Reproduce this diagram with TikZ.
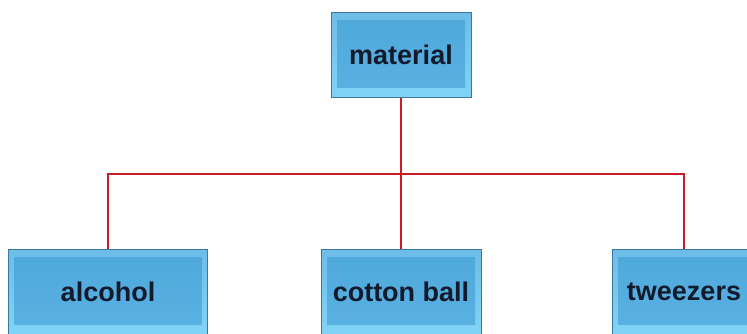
\documentclass[tikz,border=0pt]{standalone}
\usepackage{fontspec}
\setmainfont{Liberation Sans}
\usepackage{tikz}
\usetikzlibrary{positioning, calc}
\definecolor{boxface}{RGB}{78,168,218}
\definecolor{boxfacelo}{RGB}{90,178,226}
\definecolor{boxtop}{RGB}{110,188,232}
\definecolor{boxbot}{RGB}{128,212,246}
\definecolor{boxedge}{RGB}{62,118,156}
\definecolor{linkred}{RGB}{200,28,40}
\definecolor{labelink}{RGB}{18,26,44}

\begin{document}
\begin{tikzpicture}[x=1pt,y=1pt,
	item/.style={draw=boxedge, line width=0.8pt, top color=boxtop, bottom color=boxbot, minimum height=85pt, inner sep=0pt, text=labelink, font=\fontsize{27}{32}\selectfont\bfseries,
		path picture={\shade[top color=boxface, bottom color=boxfacelo] ([shift={(6pt,-8pt)}]path picture bounding box.north west) rectangle ([shift={(-6pt,10pt)}]path picture bounding box.south east);}},
	link/.style={draw=linkred, line width=1.3pt}]
	\useasboundingbox (0,0) rectangle (747,-334);
	\node[item, minimum width=140pt] (material) at (401,-55) {material};
	\node[item, minimum width=199pt] (alcohol) at (108,-291.5) {alcohol};
	\node[item, minimum width=160pt] (cotton) at (401,-291.5) {cotton ball};
	\node[item, minimum width=144pt] (tweezers) at (684,-291.5) {tweezers};
	\coordinate (bus) at (401,-174);
	\draw[link] (material.south) -- (cotton.north);
	\draw[link] (alcohol.north) |- (bus) -| (tweezers.north);
\end{tikzpicture}
\end{document}
